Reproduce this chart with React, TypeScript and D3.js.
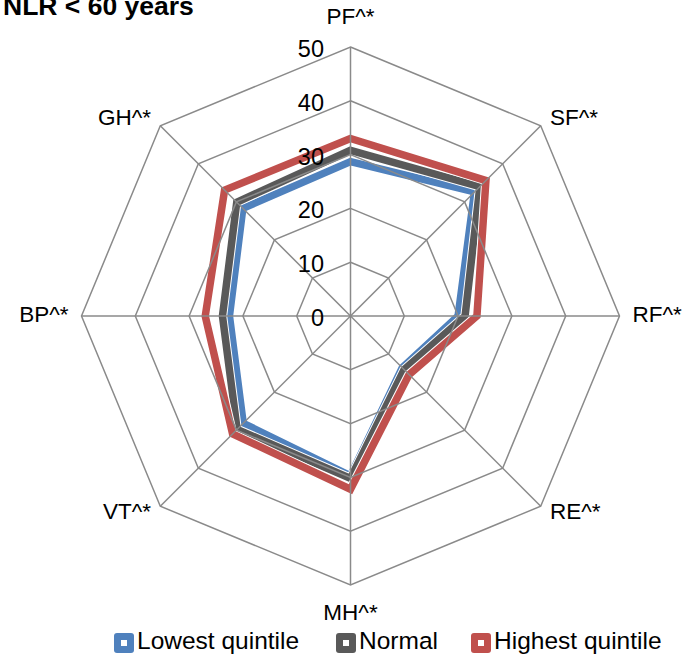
import React from "react";
import * as d3 from "d3";

const categories = ["PF^*", "SF^*", "RF^*", "RE^*", "MH^*", "VT^*", "BP^*", "GH^*"];
const lowestQuintile = [28.7, 32.6, 20.0, 13.6, 29.7, 28.2, 22.5, 28.3];
const normalGroup = [30.8, 34.0, 21.3, 14.1, 30.2, 29.8, 23.8, 29.9];
const highestQuintile = [33.0, 35.6, 23.5, 15.4, 32.2, 31.0, 27.0, 33.1];
const tickValues = [0, 10, 20, 30, 40, 50];
const seriesNames = ["Lowest quintile", "Normal", "Highest quintile"];
const seriesColors = ["#4F81BD", "#595959", "#C0504D"];

const W = 688;
const H = 663;
const cx = 350.5;
const cy = 316;
const R = 269;
const FONT = "'Liberation Sans', Arial, sans-serif";

export default function App() {
  const r = d3.scaleLinear().domain([0, 50]).range([0, R]);
  const n = categories.length;
  const angle = d3.scaleLinear().domain([0, n]).range([0, 2 * Math.PI]);
  const pt = (i: number, v: number): [number, number] => {
    const a = angle(i);
    return [cx + r(v) * Math.sin(a), cy - r(v) * Math.cos(a)];
  };
  const radial = d3
    .lineRadial<number>()
    .angle((_, i) => angle(i))
    .radius((d) => r(d))
    .curve(d3.curveLinearClosed);

  const series = [lowestQuintile, normalGroup, highestQuintile];
  const gridColor = "#8a8a8a";

  return (
    <svg
      width={W}
      height={H}
      style={{ position: "absolute", left: 0, top: 0, background: "#fff" }}
      fontFamily={FONT}
    >
      <rect width={W} height={H} fill="#fff" />
      <text x={3} y={15} fontSize={26.5} fontWeight="bold" fill="#000">
        NLR &lt; 60 years
      </text>
      <g transform={`translate(${cx},${cy})`}>
        {series.map((s, k) => (
          <g key={k}>
            <path d={radial(s) || ""} fill="none" stroke="#fff" strokeWidth={9.5} strokeLinejoin="miter" />
            <path d={radial(s) || ""} fill="none" stroke={seriesColors[k]} strokeWidth={7.5} strokeLinejoin="miter" />
          </g>
        ))}
      </g>
      {tickValues.slice(1).map((t) => (
        <polygon
          key={t}
          points={categories.map((_, i) => pt(i, t).join(",")).join(" ")}
          fill="none"
          stroke={gridColor}
          strokeWidth={1.5}
        />
      ))}
      {categories.map((_, i) => {
        const [x, y] = pt(i, 50);
        return <line key={i} x1={cx} y1={cy} x2={x} y2={y} stroke={gridColor} strokeWidth={1.5} />;
      })}
      {tickValues.map((t) => (
        <text key={t} x={324} y={cy - r(t) + 10} fontSize={23.5} textAnchor="end" fill="#000">
          {t}
        </text>
      ))}
      {categories.map((c, i) => {
        const a = angle(i);
        const [vx, vy] = pt(i, 50);
        const s = Math.sin(a);
        const co = Math.cos(a);
        const lx = vx + s * 13;
        const ly = vy - co * (Math.abs(co) > 0.9 ? 29 : 10);
        const anchor = s > 0.1 ? "start" : s < -0.1 ? "end" : "middle";
        return (
          <text key={c} x={lx} y={ly} fontSize={22.5} textAnchor={anchor} dominantBaseline="middle" fill="#000">
            {c}
          </text>
        );
      })}
      {seriesNames.map((name, k) => {
        const xs = [114, 336, 471];
        const x = xs[k];
        const y = 643;
        return (
          <g key={name}>
            <rect x={x} y={y - 10} width={20} height={20} rx={3} fill={seriesColors[k]} />
            <rect x={x + 7} y={y - 3} width={6} height={6} fill="#fff" />
            <text x={x + 23} y={y} fontSize={24.5} dominantBaseline="middle" fill="#000">
              {name}
            </text>
          </g>
        );
      })}
    </svg>
  );
}
